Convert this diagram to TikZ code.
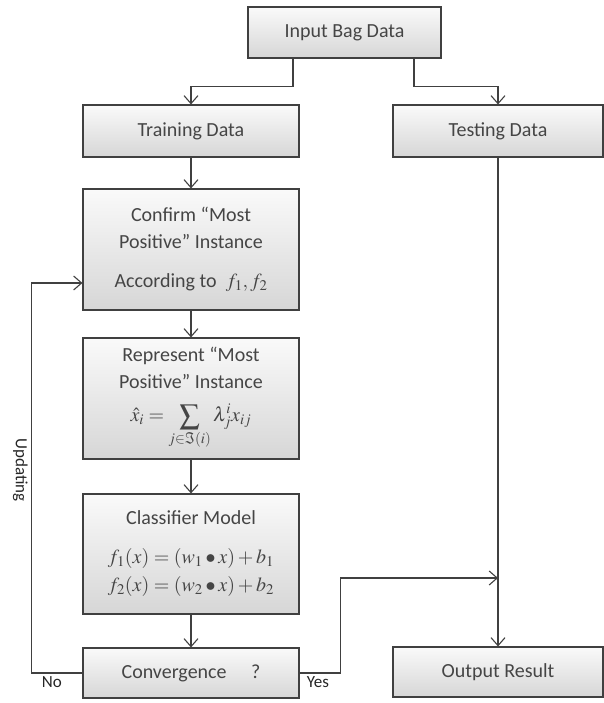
\documentclass[tikz,border=0pt]{standalone}
\usepackage{amsmath}
\usepackage{amssymb}
\usepackage{mathptmx}
\usepackage[no-math]{fontspec}
\setmainfont{Carlito}
\usepackage{tikz}
\definecolor{boxline}{rgb}{0.25, 0.25, 0.25}
\definecolor{boxtext}{rgb}{0.27, 0.27, 0.27}
\usetikzlibrary{arrows.meta, shadows}

\tikzset{
	box/.style = {draw = boxline, line width = 1.1pt, top color = black!2, bottom color = black!16,
		text = boxtext, align = center, minimum width = 216pt, inner sep = 2pt,
		drop shadow = {shadow xshift = 1.2pt, shadow yshift = -1.2pt, opacity = 0.35},
		font = \fontsize{20}{24}\selectfont},
	arr/.style = {draw = boxline, line width = 1.1pt, -{Straight Barb[length = 8pt, width = 14pt, line width = 1.1pt]}},
	lab/.style = {text = black!85, font = \fontsize{17}{20}\selectfont}
}

\begin{document}
\begin{tikzpicture}[x = 1pt, y = 1pt]
			\useasboundingbox (0,0) rectangle (603,-703);
			
			\node[box, minimum width = 193pt, minimum height = 51pt] (in) at (344.5,-32.5) {Input Bag Data};
			\node[box, minimum height = 52pt] (train) at (191,-131) {Training Data};
			\node[box, minimum width = 210pt, minimum height = 52pt] (test) at (498,-131) {Testing Data};
			\node[box, minimum height = 121pt] (conf) at (191,-249.5) {Confirm ``Most\\[3pt] Positive'' Instance\\[15pt] According to \ $f_1, f_2$};
			\node[box, minimum height = 121pt] (repr) at (191,-398.5) {Represent ``Most\\[3pt] Positive'' Instance\\[9pt] $\displaystyle \hat{x}_i = \sum_{j\in\Im(i)} \lambda_j^i x_{ij}$};
			\node[box, minimum height = 120pt] (clas) at (191,-554) {Classifier Model\\[15pt] $f_1(x) = (w_1\bullet x) + b_1$\\[4pt] $f_2(x) = (w_2\bullet x) + b_2$};
			\node[box, minimum height = 50pt] (conv) at (191,-673) {Convergence \quad ?};
			\node[box, minimum width = 210pt, minimum height = 50pt] (out) at (498,-672) {Output Result};
			
			\coordinate (merge) at (498,-578);
			
			\draw[arr] ([xshift = -51.5pt]in.south) -- ++(0,-28) -| (train.north);
			\draw[arr] ([xshift = 69.5pt]in.south) -- ++(0,-28) -| (test.north);
			\draw[arr] (train) -- (conf);
			\draw[arr] (conf) -- (repr);
			\draw[arr] (repr) -- (clas);
			\draw[arr] (clas) -- (conv);
			\draw[arr] (test) -- (out);
			
			\draw[arr] (conv.west) -- node[lab, below, pos = 0.6] (no) {No} ++(-51,0) |- node[lab, rotate = -90, pos = 0.26, below] (upd) {Updating} ([yshift = -33.5pt]conf.west);
			\draw[arr] (conv.east) -- node[lab, below, pos = 0.45] (yes) {Yes} ++(41,0) |- (merge);
			
			%	\draw[arr] (conv.east) -- (out.west);
			
			\end{tikzpicture}
\end{document}
